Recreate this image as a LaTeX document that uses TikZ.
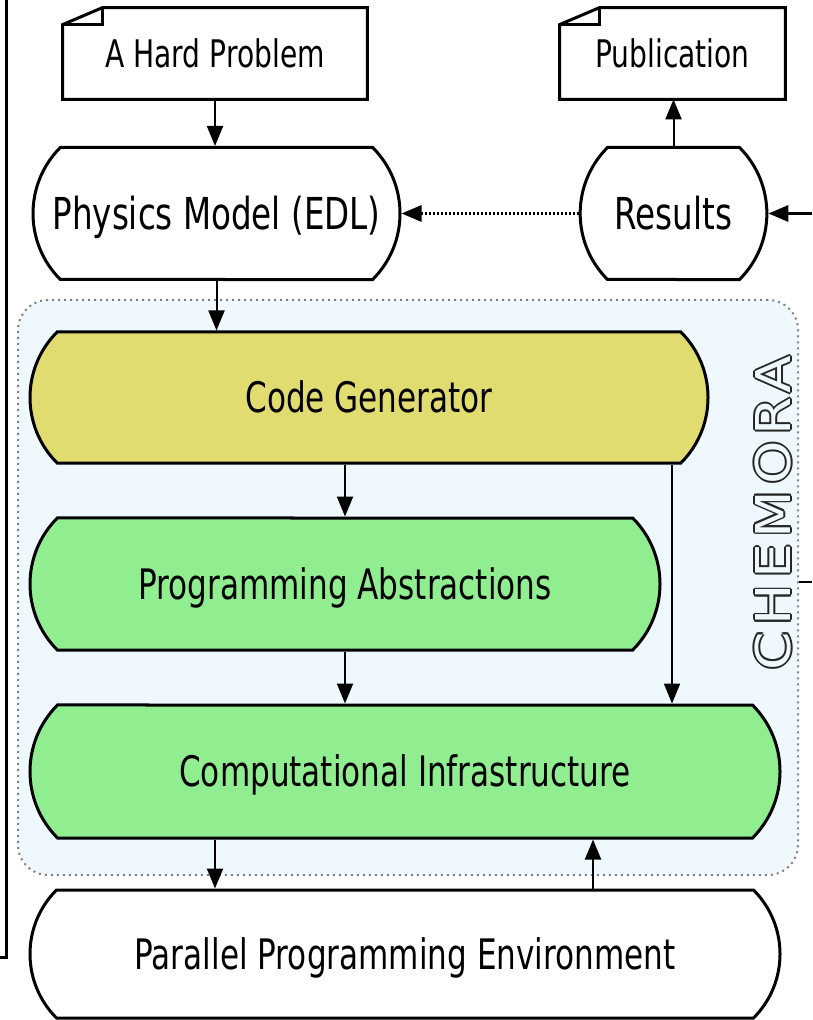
\documentclass[tikz,border=0pt]{standalone}
\usepackage{fontspec}
\setmainfont{DejaVu Sans}[FakeStretch=0.74]
\newfontfamily\chemfont{DejaVu Sans}[FakeStretch=1.15,LetterSpace=12]
\usetikzlibrary{shapes.misc,arrows.meta,calc}

\definecolor{chemfill}{RGB}{238,248,253}
\definecolor{cgyellow}{RGB}{224,220,112}
\definecolor{layergreen}{RGB}{144,238,144}

\tikzset{
  layer/.style={rounded rectangle, rounded rectangle arc length=90, draw,
    line width=1.5pt, inner sep=0pt, minimum height=66pt,
    font=\fontsize{21}{21}\selectfont, text height=15.3pt, text depth=0pt},
  bigtext/.style={font=\fontsize{22}{22}\selectfont, text height=16pt},
  docbox/.style={inner sep=0pt, minimum height=45.5pt,
    font=\fontsize{19}{19}\selectfont, text height=13.9pt, text depth=0pt},
  chemtext/.style={rotate=90, inner sep=0pt, font=\chemfont\fontsize{24}{24}\selectfont},
  flow/.style={line width=1pt, -{Triangle[length=10pt,width=8pt]}},
}

% note with the top left corner folded
\newcommand{\foldbox}[1]{%
  \draw[line width=1.5pt] ($(#1.north west)+(0,17)$) -- ($(#1.north west)+(40,0)$)
    -- (#1.north east) -- (#1.south east) -- (#1.south west) -- cycle;
  \draw[line width=1.5pt] ($(#1.north west)+(0,17)$) -- ($(#1.north west)+(40,17)$)
    -- ($(#1.north west)+(40,0)$);}

\begin{document}
\begin{tikzpicture}[x=0.5pt,y=-0.5pt]
  \useasboundingbox (0,0) rectangle (812,1020);

  % chemora frame
  \node[draw=gray, dotted, line width=1pt, fill=chemfill, rounded corners=15pt,
    minimum width=390pt, minimum height=287.5pt, inner sep=0pt] (chem) at (408,587.5) {};
  \foreach \a in {0,45,...,315}
    \node[chemtext, text=black!85] (chemo\a) at ($(773,513)+(\a:1.8)$) {CHEMORA};
  \node[chemtext, text=chemfill] (chemlabel) at (773,513) {CHEMORA};

  \node[docbox, minimum width=152pt] (hard) at (215,53.5) {A Hard Problem};
  \node[docbox, minimum width=112.5pt] (pub) at (672.5,53.5) {Publication};
  \foldbox{hard}
  \foldbox{pub}

  \node[layer, bigtext, fill=white, minimum width=183.5pt] (phys) at (216.5,213.5) {Physics Model (EDL)};
  \node[layer, bigtext, fill=white, minimum width=83.5pt] (res) at (673.5,213.5) {Results};

  \node[layer, fill=cgyellow, minimum width=339pt, minimum height=65.5pt] (cg) at (369,397.5) {Code Generator};
  \node[layer, fill=layergreen, minimum width=315pt] (pa) at (345,584) {Programming Abstractions};
  \node[layer, fill=layergreen, minimum width=375pt, minimum height=66.5pt] (ci) at (405,771.5) {Computational Infrastructure};
  \node[layer, fill=white, minimum width=375pt, minimum height=64pt] (ppe) at (405,954) {Parallel Programming Environment};

  % connectors
  \coordinate (cgtap) at ($(cg.south)+(303,0)$);
  \coordinate (citap) at ($(ci.south)+(-190,0)$);
  \coordinate (ppetap) at ($(ppe.north)+(188,0)$);
  \coordinate (fromright) at (812,213.5);
  \coordinate (chemout) at (812,582);
  \coordinate (lefttop) at (6,0);
  \coordinate (leftbot) at (0,957);

  \draw[flow] (hard.south) -- (hard.south |- phys.north);
  \draw[flow] (res.north) -- (res.north |- pub.south);
  \draw[flow, densely dotted, line width=1.5pt] (res.west) -- (phys.east);
  \draw[flow, line width=1.5pt] (fromright) -- (res.east);
  \draw[flow] (phys.south) -- (phys.south |- cg.north);
  \draw[flow] (pa.north |- cg.south) -- (pa.north);
  \draw[flow] (cgtap) -- (cgtap |- ci.north);
  \draw[flow] (pa.south) -- (pa.south |- ci.north);
  \draw[flow] (citap) -- (citap |- ppe.north);
  \draw[flow] (ppetap) -- (ppetap |- ci.south);
  \draw[line width=1pt] (chem.east |- chemout) -- (chemout);
  \draw[line width=1.5pt] (leftbot) -- (lefttop |- leftbot) -- (lefttop);
\end{tikzpicture}
\end{document}
